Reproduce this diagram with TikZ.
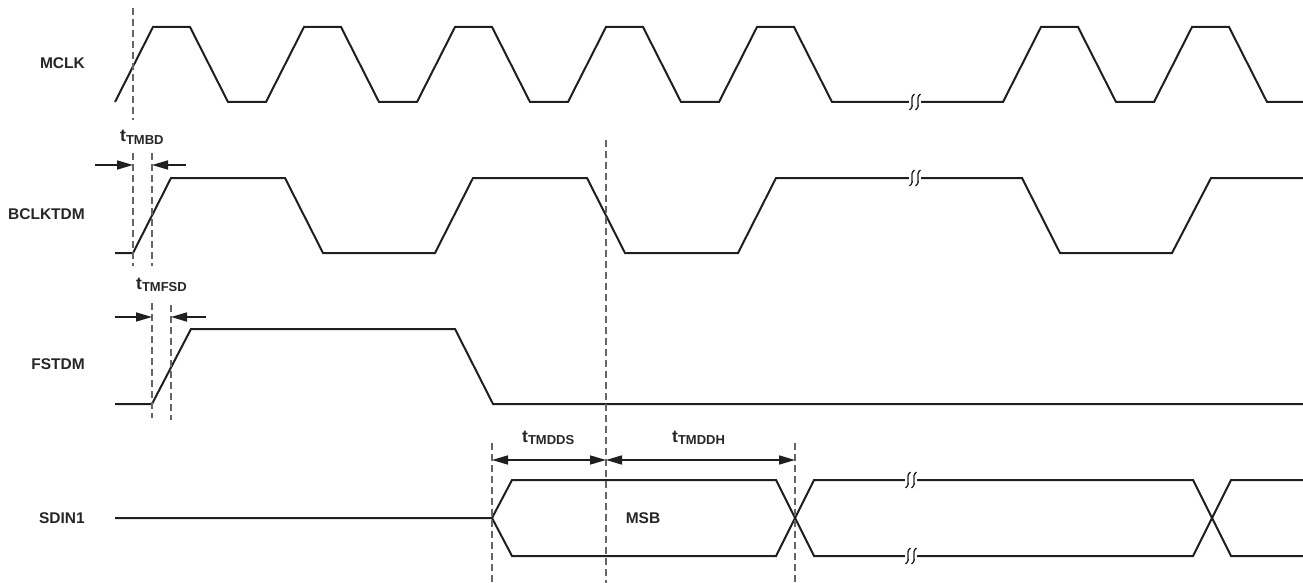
\documentclass[tikz,border=0pt]{standalone}
\usepackage{fontspec}
\setmainfont{Liberation Sans}
\usetikzlibrary{arrows.meta}
\tikzset{
  sig/.style={line width=2pt, line join=miter, black!88},
  guide/.style={line width=1.1pt, black!60, dash pattern=on 7pt off 4pt},
  dim/.style={line width=1.6pt, black!88, -{Triangle[length=16pt,width=9pt]}},
  dimb/.style={line width=1.6pt, black!88, {Triangle[length=16pt,width=9pt]}-{Triangle[length=16pt,width=9pt]}},
  lbl/.style={font=\fontsize{15.5}{18}\bfseries\selectfont, text=black!85, anchor=east, inner sep=0pt},
  tlbl/.style={font=\fontsize{17.5}{20}\bfseries\selectfont, text=black!85, anchor=base west, inner sep=0pt},
}
\newcommand{\tsub}[1]{t\raisebox{-0.3ex}{\fontsize{13}{14}\bfseries\selectfont #1}}
\newcommand{\brk}[2]{%
  \fill[white] (#1-3,#2-3) rectangle (#1+9,#2+3);
  \draw[line width=1.3pt, black!88] (#1+2.5,#2-8) .. controls (#1-4,#2-3) and (#1+4,#2+3) .. (#1-2.5,#2+8);
  \draw[line width=1.3pt, black!88] (#1+8.5,#2-8) .. controls (#1+2,#2-3) and (#1+10,#2+3) .. (#1+3.5,#2+8);
}
\begin{document}
\begin{tikzpicture}[x=1pt,y=-1pt]
\useasboundingbox (0,0) rectangle (1303,583);

% signal names
\node[lbl] (nmclk) at (85,63) {MCLK};
\node[lbl] (nbclk) at (85,214) {BCLKTDM};
\node[lbl] (nfs) at (85,364) {FSTDM};
\node[lbl] (nsdin) at (85,518) {SDIN1};

% MCLK
\draw[sig] (115,102)
  -- (153,27) -- (190,27) -- (228,102) -- (266,102)
  -- (304,27) -- (341,27) -- (379,102) -- (417,102)
  -- (455,27) -- (492,27) -- (530,102) -- (568,102)
  -- (606,27) -- (643,27) -- (681,102) -- (719,102)
  -- (757,27) -- (794,27) -- (832,102) -- (1003,102)
  -- (1041,27) -- (1078,27) -- (1116,102) -- (1154,102)
  -- (1192,27) -- (1229,27) -- (1267,102) -- (1303,102);

% BCLKTDM
\draw[sig] (115,253) -- (133,253) -- (171,178) -- (285,178) -- (323,253)
  -- (435,253) -- (473,178) -- (587,178) -- (625,253) -- (738,253)
  -- (776,178) -- (1022,178) -- (1060,253) -- (1172,253) -- (1211,178) -- (1303,178);

% FSTDM
\draw[sig] (115,404) -- (152,404) -- (191,329) -- (455,329) -- (493,404) -- (1303,404);

% SDIN1
\draw[sig] (115,518) -- (492,518) -- (512,480) -- (776,480) -- (814,556)
  -- (1193,556) -- (1231,480) -- (1303,480);
\draw[sig] (492,518) -- (512,556) -- (776,556) -- (814,480)
  -- (1193,480) -- (1231,556) -- (1303,556);

% break marks
\brk{912}{102}
\brk{912}{178}
\brk{908}{480}
\brk{908}{556}

% guide lines
\coordinate (g1t) at (133,8);   \coordinate (g1m) at (133,120);
\coordinate (g1n) at (133,153); \coordinate (g1b) at (133,266);
\coordinate (g2t) at (152,153); \coordinate (g2m) at (152,266);
\coordinate (g2n) at (152,303); \coordinate (g2b) at (152,418);
\coordinate (g3t) at (171,305); \coordinate (g3b) at (171,420);
\coordinate (g4t) at (492,443); \coordinate (g4b) at (492,583);
\coordinate (g5t) at (606,140); \coordinate (g5b) at (606,583);
\coordinate (g6t) at (795,443); \coordinate (g6b) at (795,583);
\draw[guide] (g1t) -- (g1m);
\draw[guide] (g1n) -- (g1b);
\draw[guide] (g2t) -- (g2m);
\draw[guide] (g2n) -- (g2b);
\draw[guide] (g3t) -- (g3b);
\draw[guide] (g4t) -- (g4b);
\draw[guide] (g5t) -- (g5b);
\draw[guide] (g6t) -- (g6b);

% tTMBD
\coordinate (a1s) at (95,165);  \coordinate (a1e) at (133,165);
\coordinate (a2s) at (186,165); \coordinate (a2e) at (152,165);
\draw[dim] (a1s) -- (a1e);
\draw[dim] (a2s) -- (a2e);
\node[tlbl] (ttmbd) at (120,142) {\tsub{TMBD}};

% tTMFSD
\coordinate (b1s) at (115,317); \coordinate (b1e) at (152,317);
\coordinate (b2s) at (206,317); \coordinate (b2e) at (171,317);
\draw[dim] (b1s) -- (b1e);
\draw[dim] (b2s) -- (b2e);
\node[tlbl] (ttmfsd) at (136,289) {\tsub{TMFSD}};

% tTMDDS / tTMDDH
\coordinate (c1) at (492,460); \coordinate (c2) at (606,460); \coordinate (c3) at (795,460);
\draw[dimb] (c1) -- (c2);
\draw[dimb] (c2) -- (c3);
\node[tlbl] (ttmdds) at (522,442) {\tsub{TMDDS}};
\node[tlbl] (ttmddh) at (672,442) {\tsub{TMDDH}};

% MSB
\node[font=\fontsize{15.5}{18}\bfseries\selectfont, text=black!85, inner sep=0pt] (msb) at (643,518) {MSB};
\end{tikzpicture}
\end{document}
